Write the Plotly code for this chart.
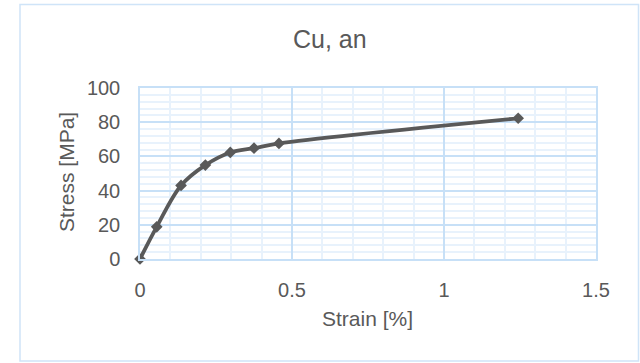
import plotly.graph_objects as go

strain = [0, 0.055, 0.135, 0.215, 0.297, 0.375, 0.457, 1.244]
stress = [0, 18.8, 43.0, 54.9, 62.3, 64.8, 67.6, 82.3]
title_text = "Cu, an"
x_title = "Strain [%]"
y_title = "Stress [MPa]"

W, H = 640, 363
L, R, T, B = 140, 44, 88, 104
pw, ph = W - L - R, H - T - B

def px(x):
    return (x - L) / pw

def py(y):
    return (H - B - y) / ph

grey = "#595959"
major = "#c7e0f7"
minor = "#e8f2fc"

fig = go.Figure()
fig.add_trace(go.Scatter(
    x=strain, y=stress, mode="lines+markers",
    line=dict(color=grey, width=3.8, shape="spline", smoothing=1),
    marker=dict(symbol="diamond", size=9, color=grey),
    showlegend=False, cliponaxis=False,
))

font = dict(family="Liberation Sans, Arial, sans-serif", color=grey)

fig.update_layout(
    width=W, height=H,
    margin=dict(l=L, r=R, t=T, b=B),
    paper_bgcolor="white", plot_bgcolor="white",
    font=dict(size=20, **font),
    xaxis=dict(range=[0, 1.5], dtick=0.5, tick0=0, showgrid=True, gridcolor=major, gridwidth=1.5,
               minor=dict(dtick=0.1, showgrid=True, gridcolor=minor, gridwidth=1.5),
               showline=True, linecolor=major, linewidth=1.5, mirror=True,
               zeroline=False, ticks="outside", ticklen=0, ticklabelstandoff=12,
               tickfont=dict(size=20, **font), fixedrange=True),
    yaxis=dict(range=[0, 100], dtick=20, tick0=0, showgrid=True, gridcolor=major, gridwidth=1.5,
               minor=dict(dtick=4, showgrid=True, gridcolor=minor, gridwidth=1.5),
               showline=True, linecolor=major, linewidth=1.5, mirror=True,
               zeroline=False, ticks="outside", ticklen=0, ticklabelstandoff=14,
               tickfont=dict(size=20, **font), fixedrange=True),
    shapes=[dict(type="rect", xref="paper", yref="paper",
                 x0=px(20), x1=px(638.5), y0=py(361), y1=py(4.5),
                 line=dict(color="#cfe4f8", width=1.5), layer="below")],
    annotations=[
        dict(text=title_text, xref="paper", yref="paper", x=px(329.5), y=py(39),
             xanchor="center", yanchor="middle", showarrow=False, font=dict(size=25, **font)),
        dict(text=x_title, xref="paper", yref="paper", x=px(367), y=py(318),
             xanchor="center", yanchor="middle", showarrow=False, font=dict(size=21, **font)),
        dict(text=y_title, xref="paper", yref="paper", x=px(66), y=py(172),
             xanchor="center", yanchor="middle", showarrow=False, textangle=-90,
             font=dict(size=21, **font)),
    ],
)

fig.write_html("out.html", config=dict(displayModeBar=False))
